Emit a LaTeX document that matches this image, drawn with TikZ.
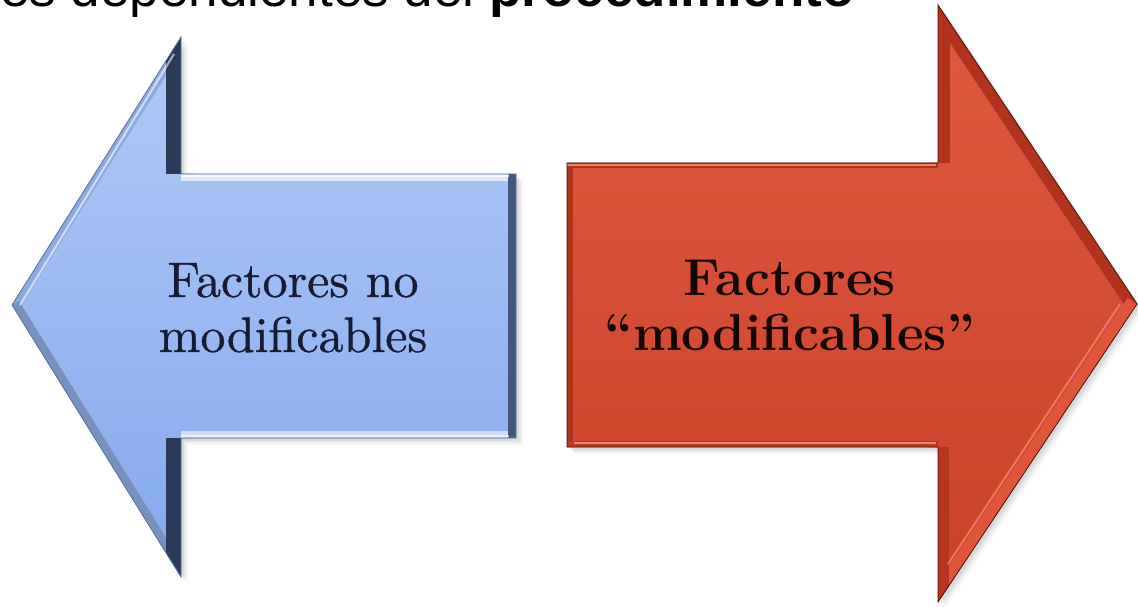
\documentclass[tikz,border=0pt]{standalone}
\usepackage{fontspec}
\newfontfamily\titlefont{Liberation Sans}
\newfontfamily\leftfont{lmroman10-regular}[Extension=.otf,FakeBold=0.7]
\definecolor{bluetop}{RGB}{176,203,248}
\definecolor{bluebot}{RGB}{132,168,234}
\definecolor{bluedark}{RGB}{44,58,90}
\definecolor{bluelight}{RGB}{222,233,252}
\definecolor{bluemid}{RGB}{140,170,225}
\definecolor{blueline}{RGB}{90,112,160}
\definecolor{redtop}{RGB}{224,90,64}
\definecolor{redbot}{RGB}{202,64,40}
\definecolor{redband}{RGB}{178,50,28}
\definecolor{redlight}{RGB}{242,132,104}
\definecolor{redmid}{RGB}{224,84,58}
\definecolor{reddark}{RGB}{70,18,8}
\definecolor{bluetext}{RGB}{22,28,50}
\definecolor{redtext}{RGB}{20,6,2}
\tikzset{
  shadowfill/.style={fill=black,opacity=#1},
  bevel/.style={line width=#1,line cap=butt},
  hilite/.style={line width=2pt,line cap=butt},
  lefttext/.style={font=\leftfont\fontsize{50}{55}\selectfont,text=bluetext,anchor=base,inner sep=0pt},
  righttext/.style={font=\bfseries\fontsize{52}{56}\selectfont,text=redtext,anchor=base,inner sep=0pt},
  titletext/.style={font=\titlefont\fontsize{53}{60}\selectfont,anchor=base west,inner sep=0pt,text=black},
}
\begin{document}
\begin{tikzpicture}[x=1pt,y=-1pt]
\useasboundingbox (0,0) rectangle (1138,607);
\fill[white] (0,0) rectangle (1138,607);
% blue arrow corners
\coordinate (B1) at (12,305);
\coordinate (B2) at (181,37);
\coordinate (B3) at (181,174);
\coordinate (B4) at (516,174);
\coordinate (B5) at (516,438);
\coordinate (B6) at (181,438);
\coordinate (B7) at (181,577);
% red arrow corners
\coordinate (R1) at (567,163);
\coordinate (R2) at (938,163);
\coordinate (R3) at (938,5);
\coordinate (R4) at (1137,304);
\coordinate (R5) at (938,602);
\coordinate (R6) at (938,447);
\coordinate (R7) at (567,447);
% title (cut off at the top)
\begin{scope}
\clip (0,0) rectangle (1138,607);
\node[titletext] (title) at (0,7) {es dependientes del \textbf{procedimiento}};
\end{scope}
% soft shadows
\foreach \s/\o in {7/0.03,5/0.05,3/0.07}{
  \begin{scope}[transform canvas={shift={(\s,\s)}}]
    \fill[shadowfill=\o] (B1)--(B2)--(B3)--(B4)--(B5)--(B6)--(B7)--cycle;
    \fill[shadowfill=\o] (R1)--(R2)--(R3)--(R4)--(R5)--(R6)--(R7)--cycle;
  \end{scope}
}
% blue arrow body
\shade[top color=bluetop,bottom color=bluebot] (B1)--(B2)--(B3)--(B4)--(B5)--(B6)--(B7)--cycle;
\begin{scope}
  \clip (B1)--(B2)--(B3)--(B4)--(B5)--(B6)--(B7)--cycle;
  \draw[bevel=16pt,bluemid] (B1)--(B2);
  \draw[bevel=16pt,bluemid!85!black] (B7)--(B1);
  \draw[bevel=14pt,bluelight] (B3)--(B4);
  \draw[bevel=14pt,bluelight!80!bluemid] (B5)--(B6);
  \draw[bevel=30pt,bluedark] (B2)--(B3);
  \draw[bevel=30pt,bluedark] (B6)--(B7);
  \draw[bevel=16pt,bluedark!75!bluemid] (B4)--(B5);
  \draw[hilite,white,opacity=0.6] (20,305)--(174,54);
  \draw[hilite,white,opacity=0.8] (181,176)--(509,176);
  \draw[hilite,white,opacity=0.6] (181,436)--(509,436);
\end{scope}
\draw[line width=0.8pt,blueline] (B1)--(B2)--(B3)--(B4)--(B5)--(B6)--(B7)--cycle;
% red arrow body
\shade[top color=redtop,bottom color=redbot] (R1)--(R2)--(R3)--(R4)--(R5)--(R6)--(R7)--cycle;
\begin{scope}
  \clip (R1)--(R2)--(R3)--(R4)--(R5)--(R6)--(R7)--cycle;
  \draw[bevel=12pt,redband] (R7)--(R1);
  \draw[bevel=10pt,redband] (R1)--(R2);
  \draw[bevel=24pt,redband] (R2)--(R3);
  \draw[bevel=22pt,redband] (R3)--(R4);
  \draw[bevel=22pt,redmid] (R4)--(R5);
  \draw[bevel=22pt,redband!90!redmid] (R5)--(R6);
  \draw[bevel=12pt,redband!80!redmid] (R6)--(R7);
  \draw[hilite,redlight] (567,165)--(936,165);
  \draw[hilite,redlight] (574,443)--(936,443);
  \draw[hilite,redlight,opacity=0.8] (1120,304)--(948,564);
\end{scope}
\draw[line width=0.8pt,reddark] (R1)--(R2)--(R3)--(R4)--(R5)--(R6)--(R7)--cycle;
% labels
\node[lefttext] (lt1) at (293,297) {Factores no};
\node[lefttext] (lt2) at (293,352) {modificables};
\node[righttext] (rt1) at (790,295) {Factores};
\node[righttext] (rt2) at (790,350) {``modificables''};
\end{tikzpicture}
\end{document}
